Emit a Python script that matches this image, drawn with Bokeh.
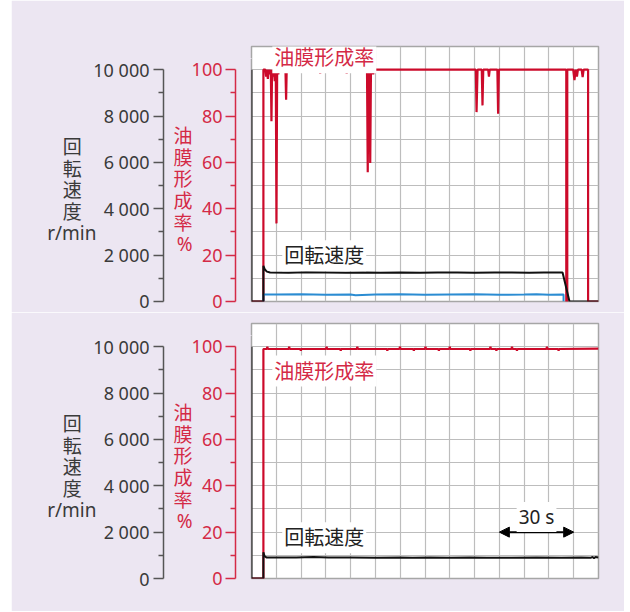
from bokeh.plotting import figure
from bokeh.layouts import column
from bokeh.models import (Range1d, LinearAxis, FixedTicker, SingleIntervalTicker,
                          Label, Arrow, NormalHead)
from bokeh.embed import file_html
from bokeh.resources import INLINE

# ---------------- data ----------------
# time in seconds, film formation rate in %, rotational speed in r/min
top_film_t = [0, 4.8, 4.8, 5.6, 5.9, 6.2, 6.6, 6.9, 7.3, 7.8,
              8.05, 8.3, 8.7, 9.0, 9.4, 9.8, 10.07, 10.35, 10.8, 11.1,
              13.7, 13.96, 14.2, 27.4, 27.7, 28.0, 38.1, 38.4, 38.7,
              46.6, 46.9, 47.2, 47.6, 47.9, 48.2, 48.8, 49.1, 49.4,
              90.5, 90.8, 91.2, 92.9, 93.2, 93.5, 95.5, 95.8, 96.1,
              99.2, 99.5, 99.8, 127.0, 127.0, 127.4, 127.4,
              129.8, 130.3, 130.8, 131.3, 131.7, 133.2, 133.6, 134.0,
              135.8, 135.8, 140]
top_film = [0, 0, 100, 100, 97, 100, 96, 100, 98, 100,
            77.8, 100, 97, 100, 95, 100, 33.7, 100, 98, 100,
            100, 87, 100, 100, 98.5, 100, 100, 98.5, 100,
            100, 55.8, 100, 100, 59.7, 100, 100, 98, 100,
            100, 81.7, 100, 100, 84.6, 100, 100, 97, 100,
            100, 81, 100, 100, 0, 0, 100,
            100, 95.5, 100, 97, 100, 100, 96.8, 100,
            100, 0, 0]

top_rpm_t = [0, 0, 4.8, 4.8, 5.4, 6.2, 7.5, 15, 22, 30, 38, 45, 52, 60, 68,
             75, 83, 90, 98, 105, 112, 118, 125.5, 128.3, 140]
top_rpm = [10000, 0, 0, 1540, 1380, 1290, 1250, 1240, 1260, 1250, 1235, 1255,
           1245, 1250, 1240, 1255, 1250, 1240, 1255, 1250, 1245, 1255, 1250, 0, 0]

top_aux_t = [4.8, 4.8, 10, 20, 30, 40, 42, 50, 60, 70, 80, 90, 100, 110, 115,
             120, 125.9, 125.9]
top_aux = [0, 3.0, 3.0, 3.1, 2.9, 3.0, 2.7, 3.0, 3.1, 2.9, 3.0, 3.1, 2.9, 3.0,
           3.1, 2.9, 3.0, 0]

bot_film_t = [0, 4.8, 4.8, 6.2, 6.4, 6.6, 15.0, 15.2, 15.4, 19.7, 19.9, 20.1,
              30.1, 30.3, 30.5, 35.8, 36.0, 36.2, 42.5, 42.7, 42.9,
              54.6, 54.8, 55.0, 59.7, 59.9, 60.1, 65.3, 65.5, 65.7,
              70.0, 70.2, 70.4, 75.4, 75.6, 75.8, 79.8, 80.0, 80.2,
              88.1, 88.3, 88.5, 96.2, 96.4, 96.6, 98.6, 98.8, 99.0,
              104.9, 105.1, 105.3, 106.9, 107.1, 107.3, 119.0, 119.2, 119.4,
              123.7, 123.9, 124.1, 140]
bot_film = [0, 0, 99, 99, 100, 99, 99, 100, 99, 99, 98.3, 99,
            99, 100, 99, 99, 98.3, 99, 99, 100, 99,
            99, 98.3, 99, 99, 100, 99, 99, 98.3, 99,
            99, 100, 99, 99, 98.3, 99, 99, 100, 99,
            99, 98.3, 99, 99, 100, 99, 99, 98.3, 99,
            99, 100, 99, 99, 98.3, 99, 99, 100, 99,
            99, 98.3, 99, 99.2]

bot_rpm_t = [0, 0, 4.8, 4.8, 5.3, 6.0, 10, 18, 25, 31, 40, 50, 60, 65, 72, 80,
             88, 95, 105, 115, 125, 133, 137, 137.6, 138.2, 138.8, 140]
bot_rpm = [10000, 0, 0, 1130, 960, 910, 905, 910, 925, 910, 905, 900, 905, 895,
           905, 900, 905, 895, 900, 905, 900, 905, 900, 930, 880, 930, 910]

pct_ticks = [0, 20, 40, 60, 80, 100]
pct_minor = [10, 30, 50, 70, 90]
rpm_ticks = [0, 2000, 4000, 6000, 8000, 10000]
rpm_tick_labels = ["0", "2 000", "4 000", "6 000", "8 000", "10 000"]
rpm_minor = [1000, 3000, 5000, 7000, 9000]

film_name = "油膜形成率"
speed_name = "回転速度"
NB = "\u00a0\u00a0\u00a0"   # pads the CJK lines so they sit centred over "r/min"
speed_title = "\n".join(["回" + NB, "転" + NB, "速" + NB, "度" + NB, "r/min"])
film_title = "\n".join(["油", "膜", "形", "成", "率", "%"])
scale_text = "30 s"

# ---------------- style ----------------
BG = "#ECE6F2"
RED_LINE = "#CC0A2A"
RED_TEXT = "#D42A46"
DARK = "#3A3A3A"
BLUE = "#2B8CD2"
GRID = "#BDBDBD"
FRAME = "#A6A6A6"
NUM_FONT = "Noto Sans"
CJK_FONT = "Noto Sans, Noto Sans CJK JP"
TITLE_POS = 48          # vertical centre of the stacked axis titles (% units)


def blank_axis(ax, gap):
    """An axis that only reserves horizontal space (tick drawn in bg colour)."""
    ax.ticker = FixedTicker(ticks=[105])
    ax.major_label_overrides = {105: ""}
    ax.axis_line_color = None
    ax.major_tick_line_color = BG
    ax.minor_tick_line_color = None
    ax.major_tick_out = gap
    ax.major_tick_in = 0
    ax.major_label_standoff = 0
    return ax


def title_axis(text, color, standoff):
    ax = LinearAxis(ticker=FixedTicker(ticks=[TITLE_POS]),
                    major_label_overrides={TITLE_POS: text})
    ax.axis_line_color = None
    ax.major_tick_line_color = None
    ax.minor_tick_line_color = None
    ax.major_tick_out = 0
    ax.major_tick_in = 0
    ax.major_label_standoff = standoff
    ax.major_label_orientation = "horizontal"
    ax.major_label_text_font = CJK_FONT
    ax.major_label_text_font_size = "19px"
    ax.major_label_text_color = color
    ax.major_label_text_line_height = 0.83
    return ax


def style_axis(ax, color, label_color, standoff):
    ax.axis_line_color = color
    ax.axis_line_width = 1.5
    ax.major_tick_line_color = color
    ax.major_tick_line_width = 1.5
    ax.minor_tick_line_color = color
    ax.minor_tick_line_width = 1.5
    ax.major_tick_out = 10
    ax.major_tick_in = 0
    ax.minor_tick_out = 5
    ax.minor_tick_in = 0
    ax.major_label_text_color = label_color
    ax.major_label_text_font = NUM_FONT
    ax.major_label_text_font_size = "18px"
    ax.major_label_standoff = standoff


def make_panel(top_border, bottom_border, film_t, film, rpm_t, rpm,
               aux_t=None, aux=None):
    p = figure(frame_width=347, frame_height=255,
               min_border_left=240, min_border_right=26,
               min_border_top=top_border, min_border_bottom=bottom_border,
               x_range=Range1d(0, 140), y_range=Range1d(0, 110),
               x_axis_location=None, y_axis_location="left",
               toolbar_location=None, output_backend="svg",
               background_fill_color="white", border_fill_color=BG,
               outline_line_color=FRAME, outline_line_width=1.5)
    p.extra_y_ranges = {"rpm": Range1d(0, 11000)}

    p.xgrid.ticker = SingleIntervalTicker(interval=10, num_minor_ticks=0)
    p.ygrid.ticker = SingleIntervalTicker(interval=10, num_minor_ticks=0)
    for g in (p.xgrid[0], p.ygrid[0]):
        g.grid_line_color = GRID
        g.grid_line_width = 1.2

    # innermost: blank gap between frame and the % axis
    blank_axis(p.yaxis[0], 16)

    ax_pct = LinearAxis(ticker=FixedTicker(ticks=pct_ticks, minor_ticks=pct_minor),
                        bounds=(0, 100))
    style_axis(ax_pct, RED_TEXT, RED_TEXT, 3)
    p.add_layout(ax_pct, "left")

    p.add_layout(title_axis(film_title, RED_TEXT, -4), "left")
    p.add_layout(blank_axis(LinearAxis(), 7), "left")

    ax_rpm = LinearAxis(y_range_name="rpm",
                        ticker=FixedTicker(ticks=rpm_ticks, minor_ticks=rpm_minor),
                        bounds=(0, 10000),
                        major_label_overrides=dict(zip(rpm_ticks, rpm_tick_labels)))
    style_axis(ax_rpm, "#555555", DARK, 4)
    p.add_layout(ax_rpm, "left")

    p.add_layout(title_axis(speed_title, DARK, -6), "left")

    # traces
    p.line(film_t, film, line_color=RED_LINE, line_width=2.2)
    if aux_t is not None:
        p.line(aux_t, aux, line_color=BLUE, line_width=2)
    p.line(rpm_t, rpm, y_range_name="rpm", line_color="#111111", line_width=2)
    return p


p1 = make_panel(46, 11, top_film_t, top_film, top_rpm_t, top_rpm, top_aux_t, top_aux)
p1.add_layout(Label(x=8.4, y=105.2, text=film_name, text_baseline="middle",
                    text_font=CJK_FONT, text_font_size="20px", text_color=RED_TEXT,
                    background_fill_color="white", padding=2))
p1.add_layout(Label(x=12.4, y=19.7, text=speed_name, text_baseline="middle",
                    text_font=CJK_FONT, text_font_size="20px", text_color="#222222",
                    background_fill_color="white", padding=2))

p2 = make_panel(11, 33, bot_film_t, bot_film, bot_rpm_t, bot_rpm)
p2.add_layout(Label(x=8.4, y=89.5, text=film_name, text_baseline="middle",
                    text_font=CJK_FONT, text_font_size="20px", text_color=RED_TEXT,
                    background_fill_color="white", padding=2))
p2.add_layout(Label(x=12.4, y=17.6, text=speed_name, text_baseline="middle",
                    text_font=CJK_FONT, text_font_size="20px", text_color="#222222",
                    background_fill_color="white", padding=2))
p2.add_layout(Arrow(x_start=100, y_start=20, x_end=130, y_end=20,
                    line_color="black", line_width=2,
                    start=NormalHead(size=10, fill_color="black", line_color="black"),
                    end=NormalHead(size=10, fill_color="black", line_color="black")))
p2.add_layout(Label(x=115, y=26.5, text=scale_text, text_align="center",
                    text_baseline="middle", text_font=NUM_FONT, text_font_size="19px",
                    text_color="#222222", background_fill_color="white", padding=2))

layout = column(p1, p2, spacing=0, margin=(0, 0, 0, 11))
open("out.html", "w").write(file_html(layout, INLINE))
